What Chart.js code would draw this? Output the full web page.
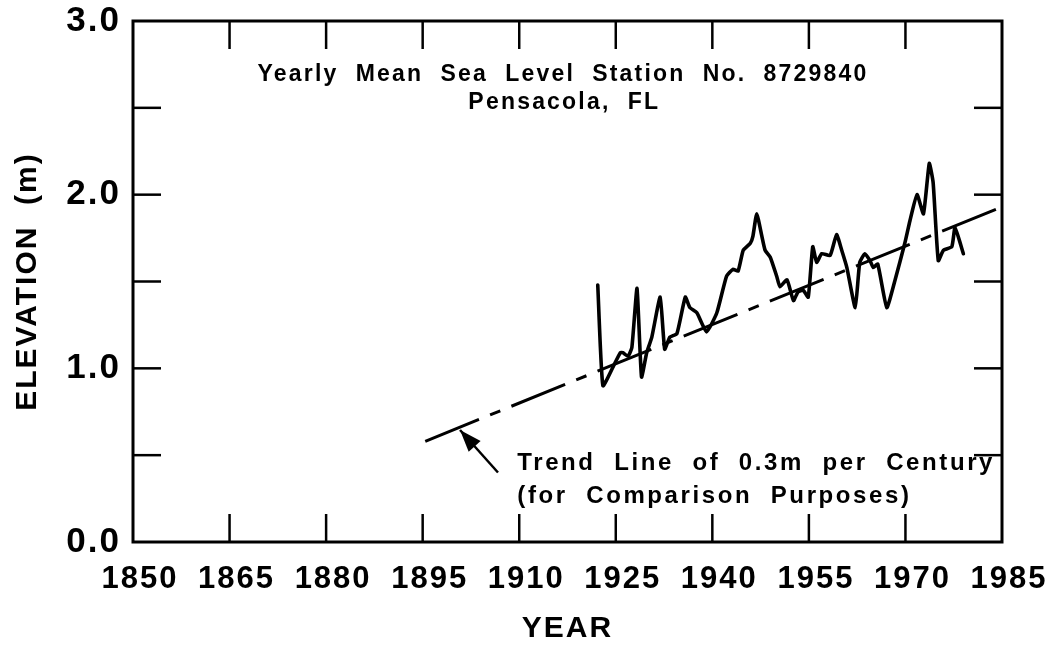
<!DOCTYPE html>
<html><head><meta charset="utf-8">
<script src="https://cdn.jsdelivr.net/npm/chart.js@4/dist/chart.umd.min.js"></script>
<style>html,body{margin:0;padding:0;background:#fff;}canvas{display:block;}</style>
</head><body>
<canvas id="c" width="1057" height="648"></canvas>
<script>
// ---- data ----
const years = [1922.2,1923.0,1924.6,1925.7,1926.1,1926.9,1927.5,1928.3,1929.0,1929.8,1930.6,1931.9,1932.6,1933.4,1934.5,1935.8,1936.5,1937.6,1939.1,1940.7,1942.2,1943.2,1944.0,1944.8,1945.9,1946.3,1946.9,1947.7,1948.2,1949.0,1950.0,1950.5,1951.6,1952.6,1953.3,1954.1,1954.9,1955.6,1956.2,1957.0,1958.3,1959.3,1960.1,1960.9,1962.2,1962.9,1963.7,1964.5,1965.0,1965.7,1967.1,1968.4,1969.9,1970.7,1971.8,1972.8,1973.7,1974.3,1975.1,1975.9,1977.2,1977.7,1979.0];
const elevation = [1.48,0.90,1.01,1.09,1.09,1.07,1.12,1.46,0.95,1.09,1.18,1.41,1.11,1.18,1.20,1.41,1.35,1.32,1.21,1.32,1.53,1.57,1.56,1.68,1.72,1.76,1.89,1.76,1.68,1.64,1.53,1.47,1.51,1.39,1.44,1.45,1.41,1.70,1.61,1.66,1.65,1.77,1.68,1.58,1.35,1.61,1.66,1.62,1.58,1.60,1.35,1.51,1.72,1.85,2.00,1.89,2.18,2.07,1.62,1.68,1.70,1.81,1.66];
const trendYears = [1895.4, 1985];
const trendElevation = [0.58, 1.93];
const xTickValues = [1850,1865,1880,1895,1910,1925,1940,1955,1970,1985];
const yTickValues = [0,0.5,1,1.5,2,2.5,3];
const yTickLabels = {0:'0.0',1:'1.0',2:'2.0',3:'3.0'};
const titleLines = ['Yearly  Mean  Sea  Level  Station  No.  8729840', 'Pensacola,  FL'];
const noteLines = ['Trend  Line  of  0.3m  per  Century', '(for  Comparison  Purposes)'];
const xTitle = 'YEAR';
const yTitle = 'ELEVATION  (m)';

const FONT = "'Liberation Sans', Arial, Helvetica, sans-serif";
const TICK = 28;

const spacing = {
  id: 'spacing',
  beforeDraw(chart) { if ('letterSpacing' in chart.ctx) chart.ctx.letterSpacing = '2px'; },
  afterDraw(chart) { if ('letterSpacing' in chart.ctx) chart.ctx.letterSpacing = '0px'; }
};

const decor = {
  id: 'decor',
  afterDatasetsDraw(chart) {
    const {ctx, chartArea: a, scales: {x, y}} = chart;
    ctx.save();
    ctx.strokeStyle = '#000';
    ctx.lineCap = 'butt';
    ctx.lineWidth = 3;
    ctx.strokeRect(a.left, a.top, a.right - a.left, a.bottom - a.top);
    ctx.lineWidth = 2.5;
    const seg = (x1, y1, x2, y2) => { ctx.beginPath(); ctx.moveTo(x1, y1); ctx.lineTo(x2, y2); ctx.stroke(); };
    x.ticks.forEach(t => {
      if (t.value === x.min || t.value === x.max) return;
      const p = x.getPixelForValue(t.value);
      seg(p, a.bottom, p, a.bottom - TICK); seg(p, a.top, p, a.top + TICK);
    });
    y.ticks.forEach(t => {
      if (t.value === y.min || t.value === y.max) return;
      const p = y.getPixelForValue(t.value);
      seg(a.left, p, a.left + TICK, p); seg(a.right, p, a.right - TICK, p);
    });
    ctx.fillStyle = '#000';
    ctx.textBaseline = 'middle';
    ctx.textAlign = 'center';
    ctx.font = 'bold 23px ' + FONT;
    if ('letterSpacing' in ctx) ctx.letterSpacing = '2.2px';
    ctx.fillText(titleLines[0], x.getPixelForValue(1916.8), y.getPixelForValue(2.69));
    ctx.fillText(titleLines[1], x.getPixelForValue(1917.0), y.getPixelForValue(2.53));
    ctx.textAlign = 'left';
    ctx.font = 'bold 24px ' + FONT;
    if ('letterSpacing' in ctx) ctx.letterSpacing = '2.6px';
    ctx.fillText(noteLines[0], x.getPixelForValue(1909.7), y.getPixelForValue(0.45));
    ctx.fillText(noteLines[1], x.getPixelForValue(1909.7), y.getPixelForValue(0.26));
    const tx = x.getPixelForValue(1900.8), ty = y.getPixelForValue(0.645);
    const sx = x.getPixelForValue(1906.7), sy = y.getPixelForValue(0.40);
    ctx.lineWidth = 2.5;
    seg(sx, sy, tx, ty);
    const ang = Math.atan2(ty - sy, tx - sx);
    const L = 22, W = 8;
    ctx.beginPath();
    ctx.moveTo(tx, ty);
    ctx.lineTo(tx - L * Math.cos(ang) + W * Math.sin(ang), ty - L * Math.sin(ang) - W * Math.cos(ang));
    ctx.lineTo(tx - L * Math.cos(ang) - W * Math.sin(ang), ty - L * Math.sin(ang) + W * Math.cos(ang));
    ctx.closePath();
    ctx.fill();
    ctx.restore();
  }
};

new Chart(document.getElementById('c'), {
  type: 'scatter',
  data: {
    datasets: [
      {
        label: 'Yearly mean sea level',
        data: years.map((v, i) => ({x: v, y: elevation[i]})),
        showLine: true, borderColor: '#000', borderWidth: 3.6, pointRadius: 0, tension: 0.15,
        borderJoinStyle: 'round', borderCapStyle: 'round'
      },
      {
        label: 'Trend',
        data: trendYears.map((v, i) => ({x: v, y: trendElevation[i]})),
        showLine: true, borderColor: '#000', borderWidth: 3, pointRadius: 0,
        borderDash: [58, 12, 11, 12]
      }
    ]
  },
  options: {
    responsive: false,
    animation: false,
    layout: {padding: {left: 0, right: 55, top: 21, bottom: 0}},
    plugins: {legend: {display: false}, tooltip: {enabled: false}},
    scales: {
      x: {
        type: 'linear', min: 1850, max: 1985,
        afterBuildTicks: s => { s.ticks = xTickValues.map(v => ({value: v})); },
        afterFit: s => { s.height = 106; s.paddingLeft = 0; s.paddingRight = 0; },
        grid: {display: false, drawTicks: false},
        border: {display: false},
        ticks: {autoSkip: false, maxRotation: 0, padding: 19, labelOffset: 7, color: '#000',
          font: {family: FONT, size: 31, weight: 'bold'}, callback: v => String(v)},
        title: {display: true, text: xTitle, color: '#000', padding: {top: 0, bottom: 1},
          font: {family: FONT, size: 30, weight: 'bold'}}
      },
      y: {
        type: 'linear', min: 0, max: 3,
        afterBuildTicks: s => { s.ticks = yTickValues.map(v => ({value: v})); },
        afterFit: s => { s.width = 133; s.paddingTop = 0; s.paddingBottom = 0; },
        grid: {display: false, drawTicks: false},
        border: {display: false},
        ticks: {padding: 12, color: '#000', font: {family: FONT, size: 35, weight: 'bold'},
          callback: v => yTickLabels[v] ?? ''},
        title: {display: true, text: yTitle, color: '#000', padding: {top: 10, bottom: 0},
          font: {family: FONT, size: 30, weight: 'bold'}}
      }
    }
  },
  plugins: [spacing, decor]
});
</script>
</body></html>
